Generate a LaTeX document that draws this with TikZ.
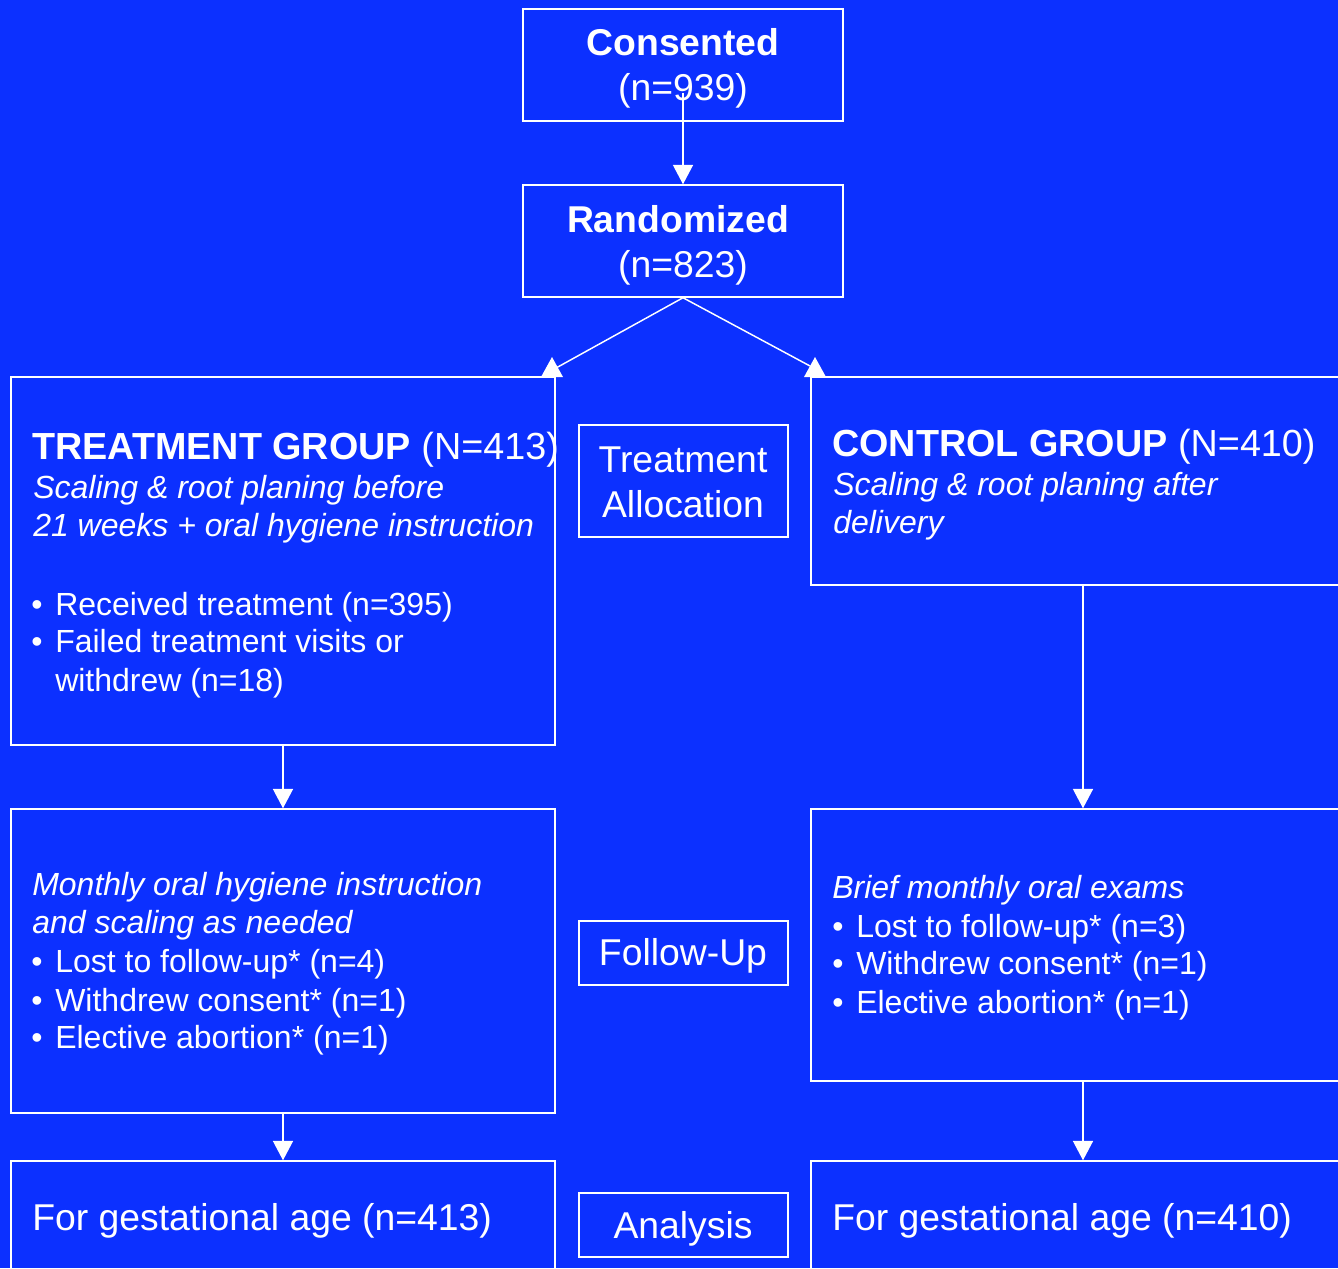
\documentclass[tikz,border=0pt]{standalone}
\usepackage{fontspec}
\setmainfont{Liberation Sans}
\usetikzlibrary{arrows.meta,fit}
\definecolor{bgblue}{RGB}{12,48,255}
\begin{document}
\begin{tikzpicture}[x=0.75pt,y=-0.75pt,
  box/.style={draw=white, line width=1.1pt, inner sep=0pt},
  tx/.style={text=white, inner sep=0pt, anchor=base west},
  tc/.style={text=white, inner sep=0pt, anchor=base},
  bigf/.style={font=\fontsize{28}{33}\selectfont},
  headf/.style={font=\fontsize{28.3}{33}\selectfont},
  smallf/.style={font=\fontsize{24}{29}\selectfont},
  smallit/.style={font=\fontsize{24}{29}\selectfont\itshape},
  arr/.style={draw=white, line width=1.1pt, -{Triangle[width=15pt,length=14.5pt]}},
  ln/.style={draw=white, line width=1.1pt}]
\clip (0,0) rectangle (1338,1268);
\fill[bgblue] (0,0) rectangle (1338,1268);

% boxes
\node[box, fit={(523,9) (843,121)}] (cons) {};
\node[box, fit={(523,185) (843,297)}] (rand) {};
\node[box, fit={(11,377) (555,745)}] (treat) {};
\node[box, fit={(811,377) (1355,585)}] (ctrl) {};
\node[box, fit={(579,425) (788,537)}] (alloc) {};
\node[box, fit={(11,809) (555,1113)}] (fu1) {};
\node[box, fit={(811,809) (1355,1081)}] (fu2) {};
\node[box, fit={(579,921) (788,985)}] (fulab) {};
\node[box, fit={(11,1161) (555,1300)}] (an1) {};
\node[box, fit={(811,1161) (1355,1300)}] (an2) {};
\node[box, fit={(579,1193) (788,1257)}] (anlab) {};

% top texts
\node[tc, bigf] (t1) at (683,55) {\textbf{Consented}};
\node[tc, bigf] (t2) at (683,100) {(n=939)};
\node[tc, bigf] (t3) at (678,232) {\textbf{Randomized}};
\node[tc, bigf] (t4) at (683,277) {(n=823)};

% middle labels
\node[tc, bigf] (l1) at (683,472) {Treatment};
\node[tc, bigf] (l2) at (683,517) {Allocation};
\node[tc, bigf] (l3) at (683,965) {Follow-Up};
\node[tc, bigf] (l4) at (683,1238) {Analysis};

% treatment group
\node[tx, headf] (g1) at (32,459) {\textbf{TREATMENT GROUP} (N=413)};
\node[tx, smallit] (g2) at (33,498) {Scaling \& root planing before};
\node[tx, smallit] (g3) at (33,536) {21 weeks + oral hygiene instruction};
\node[tx, smallf] (gb1) at (31,615) {•};
\node[tx, smallf] (g4) at (55,615) {Received treatment (n=395)};
\node[tx, smallf] (gb2) at (31,652) {•};
\node[tx, smallf] (g5) at (55,652) {Failed treatment visits or};
\node[tx, smallf] (g6) at (55,691) {withdrew (n=18)};

% control group
\node[tx, headf] (c1t) at (832,456) {\textbf{CONTROL GROUP} (N=410)};
\node[tx, smallit] (c2t) at (833,495) {Scaling \& root planing after};
\node[tx, smallit] (c3t) at (833,533) {delivery};

% follow-up left
\node[tx, smallit] (f1) at (32,895) {Monthly oral hygiene instruction};
\node[tx, smallit] (f2) at (32,933) {and scaling as needed};
\node[tx, smallf] (fb1) at (31,972) {•};
\node[tx, smallf] (f3) at (55,972) {Lost to follow-up* (n=4)};
\node[tx, smallf] (fb2) at (31,1011) {•};
\node[tx, smallf] (f4) at (55,1011) {Withdrew consent* (n=1)};
\node[tx, smallf] (fb3) at (31,1048) {•};
\node[tx, smallf] (f5) at (55,1048) {Elective abortion* (n=1)};

% follow-up right
\node[tx, smallit] (r1) at (832,898) {Brief monthly oral exams};
\node[tx, smallf] (rb1) at (832,937) {•};
\node[tx, smallf] (r2) at (856,937) {Lost to follow-up* (n=3)};
\node[tx, smallf] (rb2) at (832,974) {•};
\node[tx, smallf] (r3) at (856,974) {Withdrew consent* (n=1)};
\node[tx, smallf] (rb3) at (832,1013) {•};
\node[tx, smallf] (r4) at (856,1013) {Elective abortion* (n=1)};

% analysis
\node[tx, bigf] (a1) at (32,1230) {For gestational age (n=413)};
\node[tx, bigf] (a2) at (832,1230) {For gestational age (n=410)};

% connectors
\coordinate (cstart) at (683,93);
\draw[arr] (cstart) -- (rand.north);
\coordinate (tl) at (556,368);
\coordinate (tr) at (810,366);
\draw[ln] (rand.south) -- (tl);
\draw[ln] (rand.south) -- (tr);
\fill[white] (552,357) -- (563,377) -- (541,377) -- cycle;
\fill[white] (815,357) -- (826,377) -- (804,377) -- cycle;
\draw[arr] (treat.south) -- (fu1.north);
\draw[arr] (ctrl.south) -- (fu2.north);
\draw[arr] (fu1.south) -- (an1.north);
\draw[arr] (fu2.south) -- (an2.north);
\end{tikzpicture}
\end{document}
